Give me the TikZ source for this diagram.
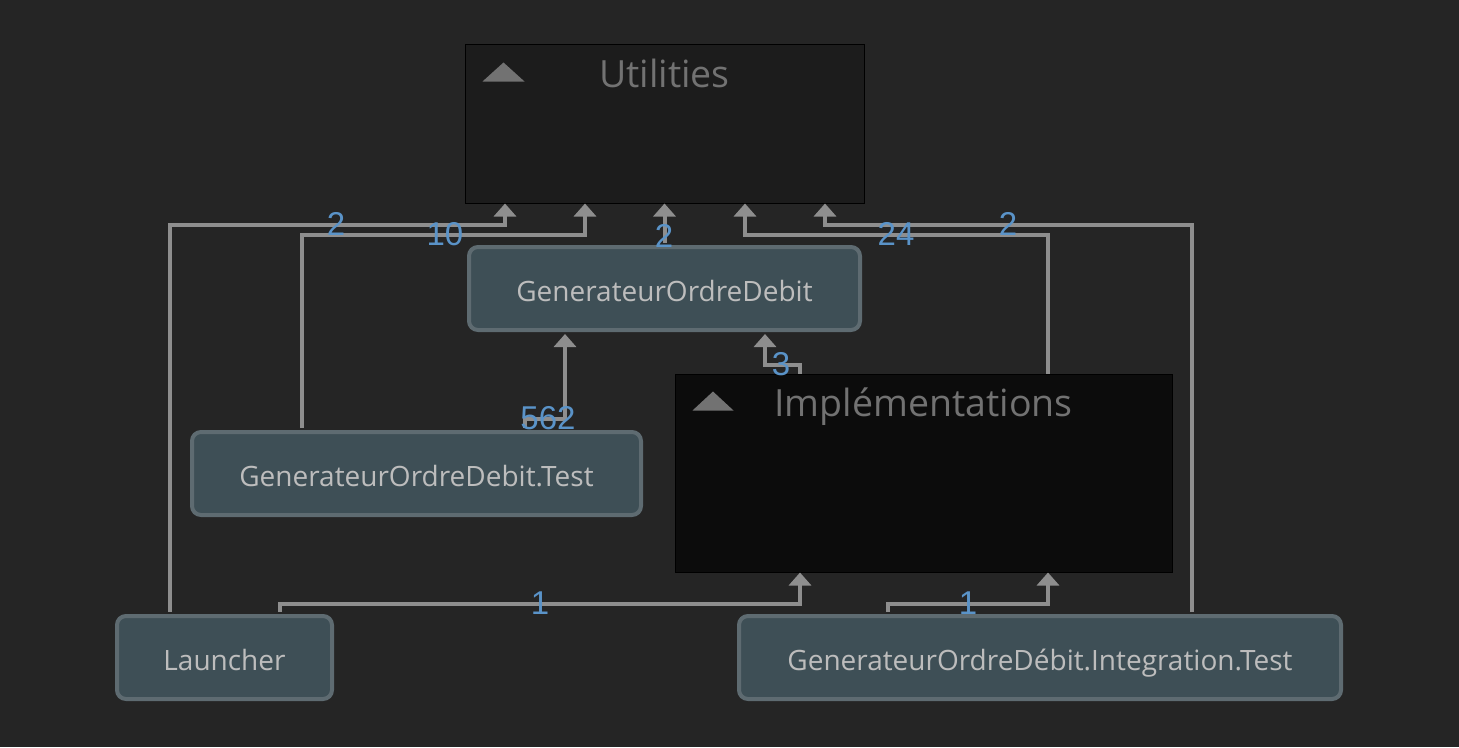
\documentclass[tikz,border=0pt]{standalone}
\usepackage{fontspec}
\setmainfont{Open Sans}
\newfontfamily\lblfont{Liberation Sans}
\usetikzlibrary{arrows.meta}
\definecolor{bg}{HTML}{252525}
\definecolor{ufill}{HTML}{1C1C1C}
\definecolor{ifill}{HTML}{0C0C0C}
\definecolor{nfill}{HTML}{3E4F56}
\definecolor{nborder}{HTML}{5E6B71}
\definecolor{ntext}{HTML}{BDBDBD}
\definecolor{ttext}{HTML}{727272}
\definecolor{ecol}{HTML}{8E8E8E}
\definecolor{lcol}{HTML}{5A93C8}
\tikzset{
  grp/.style={draw=black, line width=1pt, inner sep=0pt},
  gtitle/.style={text=ttext, font=\fontsize{37.5}{40}\selectfont, inner sep=0pt, anchor=base},
  tri/.style={fill=ttext},
  box/.style={draw=nborder, fill=nfill, line width=4pt, rounded corners=9pt,
    minimum height=83pt, text height=26pt, text depth=0pt, text=ntext,
    font=\fontsize{28}{32}\selectfont, inner sep=0pt},
  edge/.style={draw=ecol, line width=4pt, -{Triangle[width=22pt,length=13pt]}},
  lbl/.style={text=lcol, font=\lblfont\fontsize{33}{33}\selectfont, inner sep=0pt}
}
\begin{document}
\begin{tikzpicture}[x=1pt,y=-1pt]
\fill[bg] (0,0) rectangle (1459,747);
\useasboundingbox (0,0) rectangle (1459,747);

% groups
\node[grp, fill=ufill, minimum width=399pt, minimum height=159pt] (U) at (664.5,123.5) {};
\node[gtitle] (Ut) at (664.5,87) {Utilities};
\fill[tri] ([shift={(18pt,-38pt)}]U.north west) -- ++(42pt,0) -- ++(-21pt,19pt) -- cycle;

\node[grp, fill=ifill, minimum width=497pt, minimum height=198pt] (I) at (923.5,473) {};
\node[gtitle] (It) at (923.5,416) {Implémentations};
\fill[tri] ([shift={(18pt,-37pt)}]I.north west) -- ++(41pt,0) -- ++(-20.5pt,19pt) -- cycle;

% nodes
\node[box, minimum width=391pt] (G) at (664.5,288.5) {GenerateurOrdreDebit};
\node[box, minimum width=449pt] (T) at (416.5,473.5) {GenerateurOrdreDebit.Test};
\node[box, minimum width=215pt] (L) at (224.5,657.5) {Launcher};
\node[box, minimum width=602pt] (IT) at (1040,657.5) {GenerateurOrdreDébit.Integration.Test};

% edges
\draw[edge] ([xshift=-54.5pt,yshift=2pt]L.north) |- ([xshift=-159.5pt,yshift=-21pt]U.south) -- ([xshift=-159.5pt]U.south);
\draw[edge] ([xshift=-114.5pt,yshift=2pt]T.north) |- ([xshift=-79.5pt,yshift=-31pt]U.south) -- ([xshift=-79.5pt]U.south);
\draw[edge] ([yshift=2pt]G.north) -- (U.south);
\draw[edge] ([xshift=124.5pt]I.north) |- ([xshift=80.5pt,yshift=-31pt]U.south) -- ([xshift=80.5pt]U.south);
\draw[edge] ([xshift=152pt,yshift=2pt]IT.north) |- ([xshift=160.5pt,yshift=-21pt]U.south) -- ([xshift=160.5pt]U.south);
\draw[edge] ([xshift=108.5pt,yshift=2pt]T.north) |- ([xshift=-99.5pt,yshift=-87pt]G.south) -- ([xshift=-99.5pt,yshift=-2pt]G.south);
\draw[edge] ([xshift=-123.5pt]I.north) |- ([xshift=100.5pt,yshift=-33pt]G.south) -- ([xshift=100.5pt,yshift=-2pt]G.south);
\draw[edge] ([xshift=55.5pt,yshift=2pt]L.north) |- ([xshift=-123.5pt,yshift=-31pt]I.south) -- ([xshift=-123.5pt]I.south);
\draw[edge] ([xshift=-152pt,yshift=2pt]IT.north) |- ([xshift=124.5pt,yshift=-31pt]I.south) -- ([xshift=124.5pt]I.south);

% labels
\node[lbl] (l1) at (336,224) {2};
\node[lbl] (l2) at (445,234) {10};
\node[lbl] (l3) at (664,236) {2};
\node[lbl] (l4) at (896,234) {24};
\node[lbl] (l5) at (1008,224) {2};
\node[lbl] (l6) at (548,418) {562};
\node[lbl] (l7) at (781,364) {3};
\node[lbl] (l8) at (540,603) {1};
\node[lbl] (l9) at (968,603) {1};
\end{tikzpicture}
\end{document}
